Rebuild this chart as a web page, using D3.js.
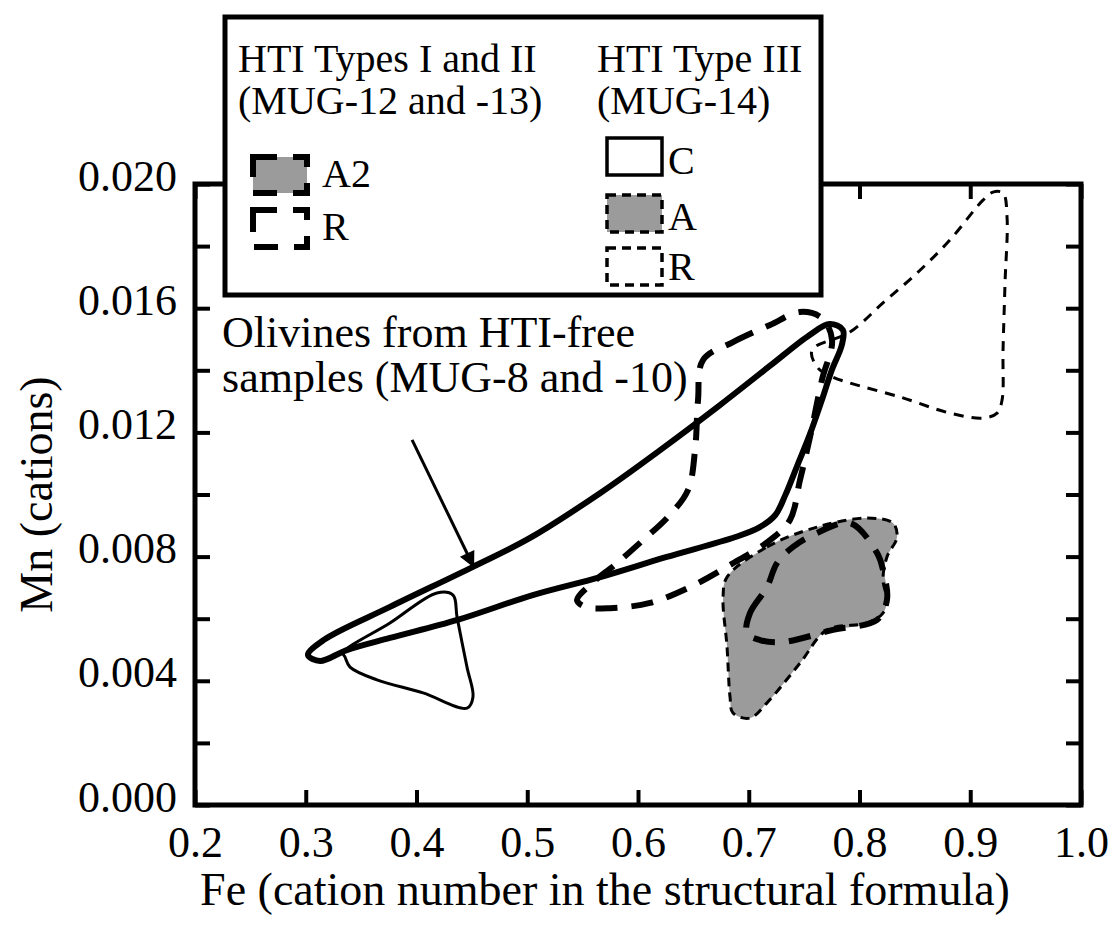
<!DOCTYPE html>
<html>
<head>
<meta charset="utf-8">
<script src="https://cdn.jsdelivr.net/npm/d3@7/dist/d3.min.js"></script>
<style>
  html, body { margin: 0; padding: 0; background: #fff; }
  svg { display: block; }
  text { font-family: "Liberation Serif", "Times New Roman", serif; fill: #000; }
</style>
</head>
<body>
<svg id="chart" width="1115" height="928"></svg>
<script>
// tick values
const xTicks = [0.2, 0.3, 0.4, 0.5, 0.6, 0.7, 0.8, 0.9, 1.0];
const yTicks = [0, 0.002, 0.004, 0.006, 0.008, 0.010, 0.012, 0.014, 0.016, 0.018, 0.020];
const yLabelTicks = [0, 0.004, 0.008, 0.012, 0.016, 0.020];

// field outlines, [Fe, Mn] pairs
// olivines from HTI-free samples (MUG-8 and -10)
const olivineFree = [
  [0.302, 0.00483], [0.316, 0.00531], [0.376, 0.00638], [0.451, 0.00767],
  [0.5025, 0.0086], [0.566, 0.01005], [0.620, 0.01143], [0.674, 0.01288],
  [0.719, 0.01414], [0.755, 0.01514], [0.773, 0.01549], [0.785, 0.0153],
  [0.784, 0.01481], [0.775, 0.01401], [0.766, 0.01304], [0.755, 0.01192],
  [0.744, 0.01095], [0.733, 0.00998], [0.724, 0.00934], [0.710, 0.00895],
  [0.688, 0.00863], [0.626, 0.00799], [0.566, 0.00734], [0.505, 0.00676],
  [0.437, 0.00596], [0.376, 0.00538], [0.337, 0.00499], [0.313, 0.00464]
];
// HTI Type III (MUG-14): C, A, R
const typeIII_C = [
  [0.3336, 0.0049], [0.376, 0.00586], [0.4185, 0.00683], [0.433, 0.00676],
  [0.4366, 0.00605], [0.4456, 0.00444], [0.451, 0.00348], [0.4456, 0.00312],
  [0.4059, 0.00361], [0.3643, 0.00403], [0.340, 0.00444], [0.3354, 0.00477]
];
const typeIII_A = [
  [0.6804, 0.00734], [0.7165, 0.00831], [0.7616, 0.00895], [0.8068, 0.00924],
  [0.8302, 0.00908], [0.8339, 0.00863], [0.8248, 0.00799], [0.8212, 0.00725],
  [0.8248, 0.0066], [0.8212, 0.00618], [0.8068, 0.00586], [0.7707, 0.00564],
  [0.7463, 0.00457], [0.7165, 0.00329], [0.7011, 0.0028], [0.6858, 0.00296],
  [0.6831, 0.00348], [0.6804, 0.00509], [0.6768, 0.0067]
];
const typeIII_R = [
  [0.7571, 0.01465], [0.7914, 0.01523], [0.8212, 0.01617], [0.8519, 0.01713],
  [0.8817, 0.0182], [0.9115, 0.01948], [0.9205, 0.01974], [0.9296, 0.01971],
  [0.9332, 0.01894], [0.9314, 0.01681], [0.9296, 0.01465], [0.9287, 0.01304],
  [0.9242, 0.01262], [0.9115, 0.01246], [0.8817, 0.01262], [0.8366, 0.01314],
  [0.7914, 0.01359], [0.7761, 0.01378], [0.7625, 0.01407]
];
// HTI Types I and II (MUG-12 and -13): A2, R
const typeI_II_A2 = [
  [0.6984, 0.00554], [0.7011, 0.00618], [0.7165, 0.00702], [0.7255, 0.00779],
  [0.74, 0.00831], [0.7616, 0.00876], [0.7914, 0.00908], [0.8158, 0.00812],
  [0.8212, 0.00757], [0.8248, 0.0066], [0.8158, 0.00596], [0.7761, 0.00564],
  [0.7309, 0.00525], [0.7102, 0.00531]
];
const typeI_II_R = [
  [0.6587, 0.01433], [0.6858, 0.01491], [0.7192, 0.01546], [0.7463, 0.01588],
  [0.7661, 0.01568], [0.7752, 0.01498], [0.7661, 0.01369], [0.7553, 0.01185],
  [0.7463, 0.01047], [0.7372, 0.00918], [0.7192, 0.00853], [0.6831, 0.00773],
  [0.647, 0.00702], [0.6108, 0.00651], [0.5747, 0.00634], [0.5521, 0.00638],
  [0.5449, 0.0066], [0.5567, 0.00709], [0.581, 0.00779], [0.6045, 0.00853],
  [0.6271, 0.00928], [0.6451, 0.01014], [0.6515, 0.01143], [0.6542, 0.01304]
];
// annotation arrow and text anchor
const arrowPts = [[0.396, 0.01176], [0.452, 0.00764]];
const noteAt = [0.2244, 0.01475];
const noteLines = ["Olivines from HTI-free", "samples (MUG-8 and -10)"];

const grey = "#9b9b9b";
const svg = d3.select("#chart");

const x = d3.scaleLinear().domain([0.2, 1.0]).range([195, 1081]);
const y = d3.scaleLinear().domain([0, 0.020]).range([805, 184]);

const shape = d3.line()
  .x(d => x(d[0]))
  .y(d => y(d[1]))
  .curve(d3.curveCatmullRomClosed.alpha(0.5));

// fields
const fields = svg.append("g");
fields.append("path").attr("d", shape(typeIII_A)).attr("fill", grey).attr("stroke", "none");
fields.append("path").attr("d", shape(typeI_II_A2)).attr("fill", grey).attr("stroke", "none");

fields.append("path").attr("d", shape(typeIII_A))
  .attr("fill", "none").attr("stroke", "#000").attr("stroke-width", 3)
  .attr("stroke-dasharray", "9,6");
fields.append("path").attr("d", shape(typeIII_R))
  .attr("fill", "none").attr("stroke", "#000").attr("stroke-width", 3)
  .attr("stroke-dasharray", "10,8");
fields.append("path").attr("d", shape(typeIII_C))
  .attr("fill", "none").attr("stroke", "#000").attr("stroke-width", 3);
fields.append("path").attr("d", shape(typeI_II_A2))
  .attr("fill", "none").attr("stroke", "#000").attr("stroke-width", 6)
  .attr("stroke-dasharray", "22,14");
fields.append("path").attr("d", shape(typeI_II_R))
  .attr("fill", "none").attr("stroke", "#000").attr("stroke-width", 6)
  .attr("stroke-dasharray", "22,14");
fields.append("path").attr("d", shape(olivineFree))
  .attr("fill", "none").attr("stroke", "#000").attr("stroke-width", 6)
  .attr("stroke-linejoin", "round");

// arrow
svg.append("defs").append("marker")
  .attr("id", "head")
  .attr("viewBox", "0 0 10 10")
  .attr("refX", 10).attr("refY", 5)
  .attr("markerUnits", "userSpaceOnUse")
  .attr("markerWidth", 22).attr("markerHeight", 16)
  .attr("orient", "auto")
  .append("path").attr("d", "M0,0L10,5L0,10Z").attr("fill", "#000");

svg.append("line")
  .attr("x1", x(arrowPts[0][0])).attr("y1", y(arrowPts[0][1]))
  .attr("x2", x(arrowPts[1][0])).attr("y2", y(arrowPts[1][1]))
  .attr("stroke", "#000").attr("stroke-width", 3)
  .attr("marker-end", "url(#head)");

svg.append("g").selectAll("text")
  .data(noteLines)
  .join("text")
  .attr("x", x(noteAt[0]))
  .attr("y", (d, i) => y(noteAt[1]) + i * 45)
  .attr("font-size", 44)
  .text(d => d);

// axes, ticks pointing inward
const axisStyle = g => {
  g.select(".domain").remove();
  g.selectAll(".tick line").attr("stroke", "#000").attr("stroke-width", 4);
  g.selectAll("text").attr("font-family", null).attr("fill", "#000").attr("font-size", 44);
  g.attr("font-family", null).attr("font-size", null);
};

svg.append("g")
  .attr("transform", `translate(0,${y(0)})`)
  .call(d3.axisBottom(x).tickValues(xTicks).tickSize(-15).tickPadding(21).tickFormat(d3.format(".1f")))
  .call(axisStyle);

svg.append("g")
  .attr("transform", `translate(0,${y(0.020)})`)
  .call(d3.axisTop(x).tickValues(xTicks).tickSize(-15).tickFormat(""))
  .call(axisStyle);

svg.append("g")
  .attr("transform", `translate(${x(0.2)},0)`)
  .call(d3.axisLeft(y).tickValues(yTicks).tickSize(-15).tickPadding(18)
    .tickFormat(d => yLabelTicks.some(v => Math.abs(v - d) < 1e-9) ? d3.format(".3f")(d) : ""))
  .call(axisStyle)
  .selectAll("text").attr("dy", "0.14em");

svg.append("g")
  .attr("transform", `translate(${x(1.0)},0)`)
  .call(d3.axisRight(y).tickValues(yTicks).tickSize(-15).tickFormat(""))
  .call(axisStyle);

// frame
svg.append("rect")
  .attr("x", x(0.2)).attr("y", y(0.020))
  .attr("width", x(1.0) - x(0.2)).attr("height", y(0) - y(0.020))
  .attr("fill", "none").attr("stroke", "#000").attr("stroke-width", 5);

// axis titles
svg.append("text")
  .attr("x", (x(0.2) + x(1.0)) / 2 - 33).attr("y", 905)
  .attr("text-anchor", "middle").attr("font-size", 46)
  .text("Fe (cation number in the structural formula)");

svg.append("text")
  .attr("transform", `translate(52,${(y(0) + y(0.020)) / 2}) rotate(-90)`)
  .attr("text-anchor", "middle").attr("font-size", 46)
  .text("Mn (cations)");

// legend
const legend = svg.append("g");
legend.append("rect")
  .attr("x", 225).attr("y", 17).attr("width", 596).attr("height", 278)
  .attr("fill", "#fff").attr("stroke", "#000").attr("stroke-width", 5);

const legendHeads = [
  { x: 238, lines: ["HTI Types I and II", "(MUG-12 and -13)"] },
  { x: 597, lines: ["HTI Type III", "(MUG-14)"] }
];
legendHeads.forEach(h => {
  h.lines.forEach((t, i) => {
    legend.append("text").attr("x", h.x).attr("y", 72 + i * 42)
      .attr("font-size", 40).text(t);
  });
});

const legendItems = [
  { label: "A2", x: 253, y: 157, w: 54, h: 36, fill: grey, sw: 6, dash: "24,16", tx: 322, ty: 187 },
  { label: "R",  x: 253, y: 210, w: 54, h: 37, fill: "none", sw: 6, dash: "24,16", tx: 322, ty: 240 },
  { label: "C",  x: 607, y: 138, w: 55, h: 37, fill: "none", sw: 3.5, dash: null, tx: 668, ty: 174 },
  { label: "A",  x: 607, y: 195, w: 55, h: 37, fill: grey, sw: 3.5, dash: "9,6", tx: 668, ty: 230 },
  { label: "R",  x: 607, y: 248, w: 55, h: 37, fill: "none", sw: 3.5, dash: "9,6", tx: 668, ty: 280 }
];
legendItems.forEach(it => {
  legend.append("rect")
    .attr("x", it.x).attr("y", it.y).attr("width", it.w).attr("height", it.h)
    .attr("fill", it.fill).attr("stroke", "#000").attr("stroke-width", it.sw)
    .attr("stroke-dasharray", it.dash);
  legend.append("text").attr("x", it.tx).attr("y", it.ty)
    .attr("font-size", 40).text(it.label);
});
</script>
</body>
</html>
